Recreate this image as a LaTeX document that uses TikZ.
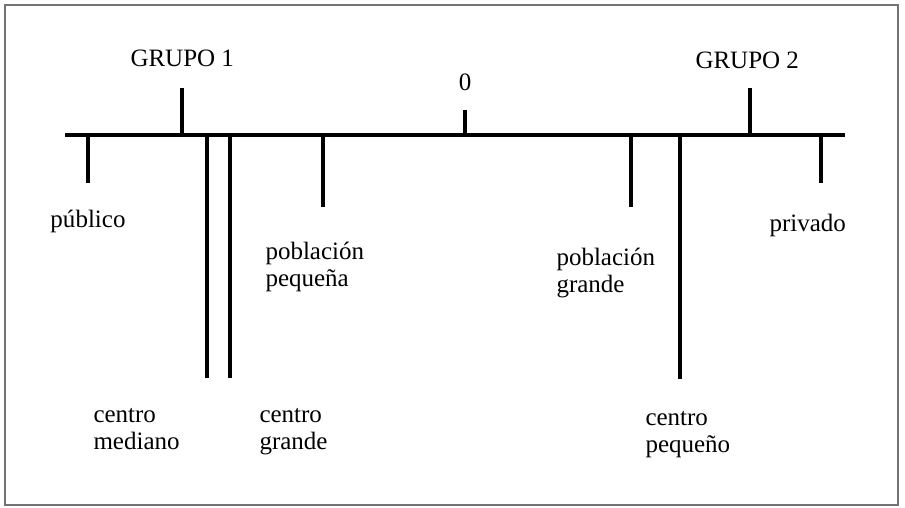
\documentclass[tikz,border=0pt]{standalone}
\usepackage{fontspec}
\setmainfont{Liberation Serif}
\begin{document}
\begin{tikzpicture}[x=0.4pt,y=-0.4pt,
  bar/.style={line width=1.6pt,black},
  lbl/.style={anchor=base west,inner sep=0pt,align=left,font=\fontsize{10}{10.8}\selectfont},
  frame/.style={draw=black!55,line width=0.7pt}]
\useasboundingbox (0,0) rectangle (905,507);
\draw[frame] (5,5) rectangle (898,505);
% axis
\coordinate (axL) at (65,135);
\coordinate (axR) at (845,135);
\draw[bar] (axL) -- (axR);
% tick bases and ends
\foreach \n/\x/\e in {pub/88/183, mid/207/378, gra/230/378, ppe/323/207, pgr/631/207, cpe/680/379, pri/821/183}{
  \coordinate (b\n) at (\x,135);
  \coordinate (e\n) at (\x,\e);
  \draw[bar] (b\n) -- (e\n);
}
\foreach \n/\x/\e in {g1/182/88, zero/465/110, g2/750/88}{
  \coordinate (b\n) at (\x,135);
  \coordinate (e\n) at (\x,\e);
  \draw[bar] (b\n) -- (e\n);
}
% labels (two-line labels: base = baseline of last line)
\node[lbl] (lg1) at (130,66) {GRUPO 1};
\node[lbl,anchor=base] (lzero) at (465,90) {0};
\node[lbl] (lg2) at (695,68) {GRUPO 2};
\node[lbl] (lpub) at (50,227) {público};
\node[lbl] (lpri) at (769,231) {privado};
\node[lbl] (lppe) at (265,286) {población\\pequeña};
\node[lbl] (lpgr) at (556,292) {población\\grande};
\node[lbl] (lmid) at (93,449) {centro\\mediano};
\node[lbl] (lgra) at (259,449) {centro\\grande};
\node[lbl] (lcpe) at (645,452) {centro\\pequeño};
\end{tikzpicture}
\end{document}
